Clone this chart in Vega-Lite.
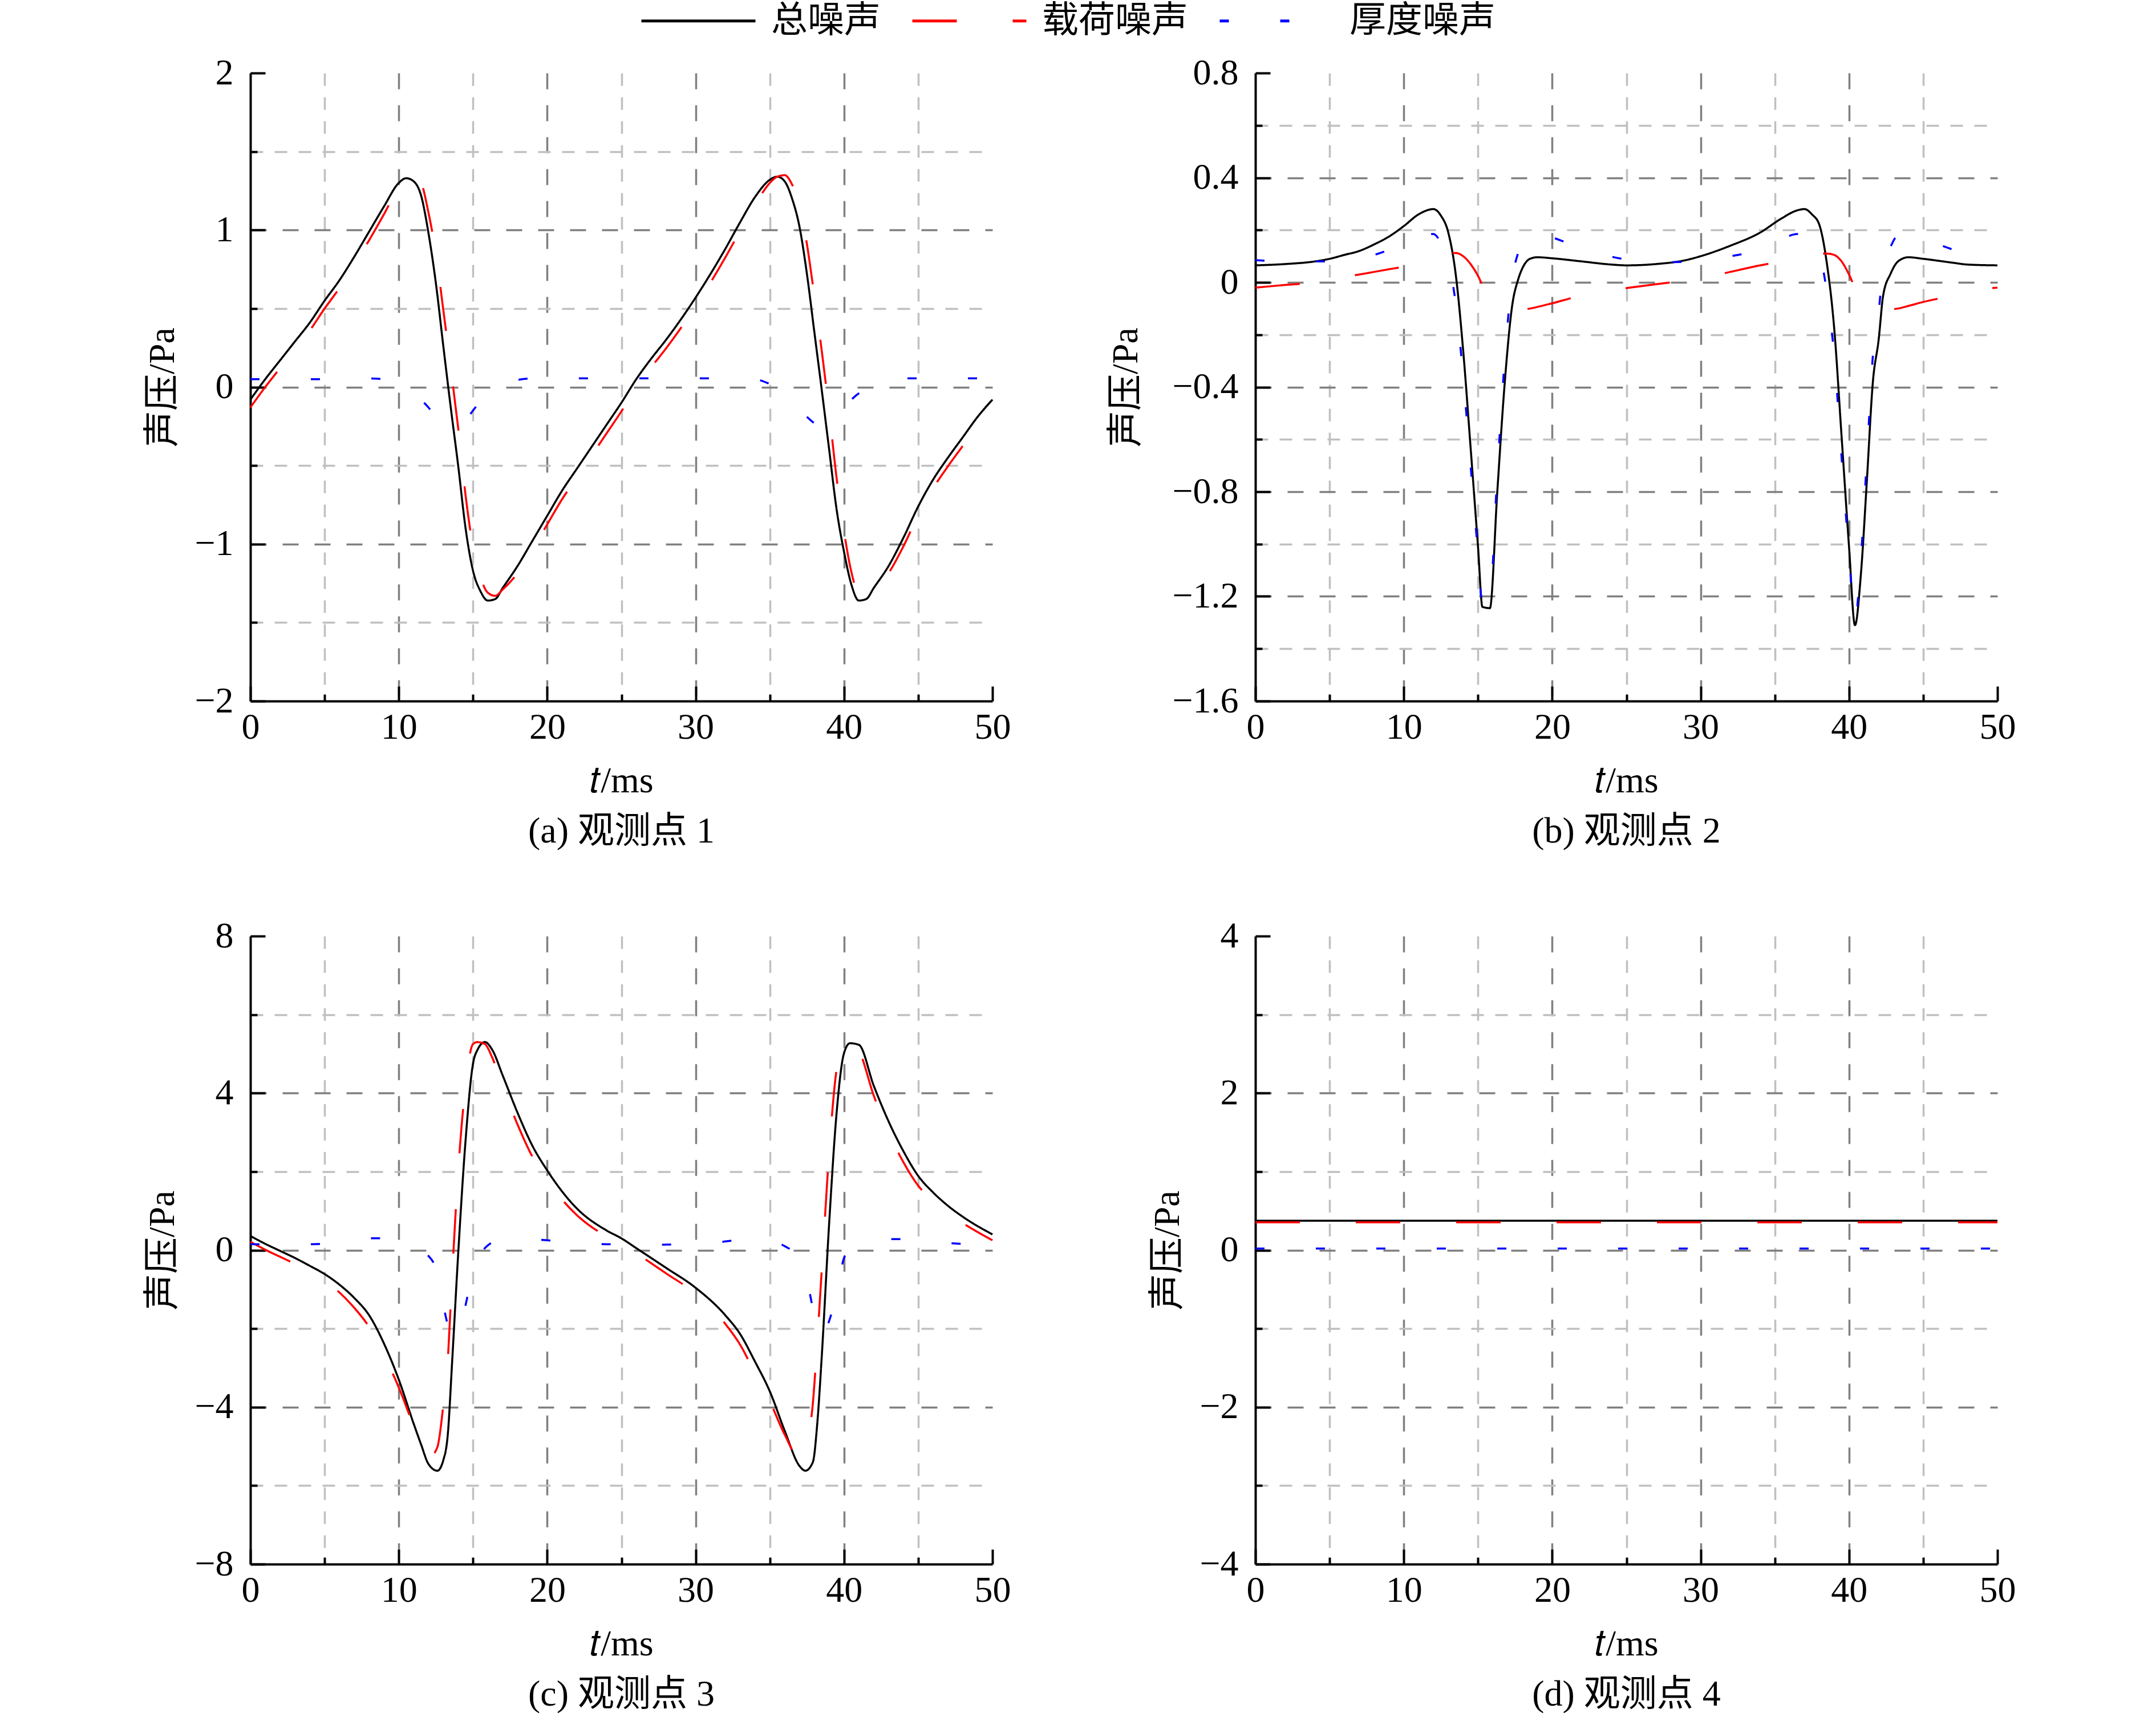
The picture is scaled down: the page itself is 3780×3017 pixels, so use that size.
{
  "$schema": "https://vega.github.io/schema/vega-lite/v6.json",
  "background": "white",
  "padding": {"left": 253, "top": -66, "right": 0, "bottom": 0},
  "data": {
    "values": [
      {"panel": "a", "t": 0, "总噪声": -0.08, "载荷噪声": -0.13, "厚度噪声": 0.05},
      {"panel": "a", "t": 1, "总噪声": 0.05, "载荷噪声": 0.0, "厚度噪声": 0.05},
      {"panel": "a", "t": 2, "总噪声": 0.17, "载荷噪声": 0.12, "厚度噪声": 0.05},
      {"panel": "a", "t": 3, "总噪声": 0.29, "载荷噪声": 0.24, "厚度噪声": 0.05},
      {"panel": "a", "t": 4, "总噪声": 0.41, "载荷噪声": 0.36, "厚度噪声": 0.05},
      {"panel": "a", "t": 5, "总噪声": 0.55, "载荷噪声": 0.5, "厚度噪声": 0.05},
      {"panel": "a", "t": 6, "总噪声": 0.68, "载荷噪声": 0.63, "厚度噪声": 0.05},
      {"panel": "a", "t": 7, "总噪声": 0.83, "载荷噪声": 0.78, "厚度噪声": 0.05},
      {"panel": "a", "t": 8, "总噪声": 0.99, "载荷噪声": 0.935, "厚度噪声": 0.055},
      {"panel": "a", "t": 9, "总噪声": 1.15, "载荷噪声": 1.1, "厚度噪声": 0.05},
      {"panel": "a", "t": 10, "总噪声": 1.3, "载荷噪声": 1.275, "厚度噪声": 0.025},
      {"panel": "a", "t": 10.5, "总噪声": 1.33, "载荷噪声": 1.33, "厚度噪声": 0.0},
      {"panel": "a", "t": 11, "总噪声": 1.31, "载荷噪声": 1.34, "厚度噪声": -0.03},
      {"panel": "a", "t": 11.5, "总噪声": 1.22, "载荷噪声": 1.3, "厚度噪声": -0.08},
      {"panel": "a", "t": 12, "总噪声": 0.98, "载荷噪声": 1.11, "厚度噪声": -0.13},
      {"panel": "a", "t": 12.5, "总噪声": 0.66, "载荷噪声": 0.85, "厚度噪声": -0.19},
      {"panel": "a", "t": 13, "总噪声": 0.26, "载荷噪声": 0.49, "厚度噪声": -0.23},
      {"panel": "a", "t": 13.5, "总噪声": -0.13, "载荷噪声": 0.12, "厚度噪声": -0.25},
      {"panel": "a", "t": 14, "总噪声": -0.5, "载荷噪声": -0.26, "厚度噪声": -0.24},
      {"panel": "a", "t": 14.5, "总噪声": -0.9, "载荷噪声": -0.69, "厚度噪声": -0.21},
      {"panel": "a", "t": 15, "总噪声": -1.17, "载荷噪声": -1.02, "厚度噪声": -0.15},
      {"panel": "a", "t": 15.5, "总噪声": -1.3, "载荷噪声": -1.21, "厚度噪声": -0.09},
      {"panel": "a", "t": 16, "总噪声": -1.36, "载荷噪声": -1.31, "厚度噪声": -0.05},
      {"panel": "a", "t": 16.5, "总噪声": -1.35, "载荷噪声": -1.33, "厚度噪声": -0.02},
      {"panel": "a", "t": 17, "总噪声": -1.28, "载荷噪声": -1.29, "厚度噪声": 0.01},
      {"panel": "a", "t": 18, "总噪声": -1.14, "载荷噪声": -1.185, "厚度噪声": 0.045},
      {"panel": "a", "t": 19, "总噪声": -0.98, "载荷噪声": -1.035, "厚度噪声": 0.055},
      {"panel": "a", "t": 20, "总噪声": -0.82, "载荷噪声": -0.875, "厚度噪声": 0.055},
      {"panel": "a", "t": 21, "总噪声": -0.66, "载荷噪声": -0.715, "厚度噪声": 0.055},
      {"panel": "a", "t": 22, "总噪声": -0.52, "载荷噪声": -0.575, "厚度噪声": 0.055},
      {"panel": "a", "t": 23, "总噪声": -0.38, "载荷噪声": -0.435, "厚度噪声": 0.055},
      {"panel": "a", "t": 24, "总噪声": -0.24, "载荷噪声": -0.295, "厚度噪声": 0.055},
      {"panel": "a", "t": 25, "总噪声": -0.1, "载荷噪声": -0.155, "厚度噪声": 0.055},
      {"panel": "a", "t": 26, "总噪声": 0.05, "载荷噪声": -0.005, "厚度噪声": 0.055},
      {"panel": "a", "t": 27, "总噪声": 0.18, "载荷噪声": 0.125, "厚度噪声": 0.055},
      {"panel": "a", "t": 28, "总噪声": 0.3, "载荷噪声": 0.245, "厚度噪声": 0.055},
      {"panel": "a", "t": 29, "总噪声": 0.43, "载荷噪声": 0.375, "厚度噪声": 0.055},
      {"panel": "a", "t": 30, "总噪声": 0.57, "载荷噪声": 0.515, "厚度噪声": 0.055},
      {"panel": "a", "t": 31, "总噪声": 0.72, "载荷噪声": 0.665, "厚度噪声": 0.055},
      {"panel": "a", "t": 32, "总噪声": 0.88, "载荷噪声": 0.825, "厚度噪声": 0.055},
      {"panel": "a", "t": 33, "总噪声": 1.05, "载荷噪声": 0.995, "厚度噪声": 0.055},
      {"panel": "a", "t": 34, "总噪声": 1.21, "载荷噪声": 1.16, "厚度噪声": 0.05},
      {"panel": "a", "t": 35, "总噪声": 1.32, "载荷噪声": 1.3, "厚度噪声": 0.02},
      {"panel": "a", "t": 35.5, "总噪声": 1.34, "载荷噪声": 1.34, "厚度噪声": 0.0},
      {"panel": "a", "t": 36, "总噪声": 1.31, "载荷噪声": 1.35, "厚度噪声": -0.04},
      {"panel": "a", "t": 36.5, "总噪声": 1.2, "载荷噪声": 1.29, "厚度噪声": -0.09},
      {"panel": "a", "t": 37, "总噪声": 1.02, "载荷噪声": 1.16, "厚度噪声": -0.14},
      {"panel": "a", "t": 37.5, "总噪声": 0.72, "载荷噪声": 0.91, "厚度噪声": -0.19},
      {"panel": "a", "t": 38, "总噪声": 0.35, "载荷噪声": 0.58, "厚度噪声": -0.23},
      {"panel": "a", "t": 38.5, "总噪声": -0.02, "载荷噪声": 0.23, "厚度噪声": -0.25},
      {"panel": "a", "t": 39, "总噪声": -0.4, "载荷噪声": -0.16, "厚度噪声": -0.24},
      {"panel": "a", "t": 39.5, "总噪声": -0.78, "载荷噪声": -0.58, "厚度噪声": -0.2},
      {"panel": "a", "t": 40, "总噪声": -1.05, "载荷噪声": -0.92, "厚度噪声": -0.13},
      {"panel": "a", "t": 40.5, "总噪声": -1.26, "载荷噪声": -1.18, "厚度噪声": -0.08},
      {"panel": "a", "t": 41, "总噪声": -1.36, "载荷噪声": -1.32, "厚度噪声": -0.04},
      {"panel": "a", "t": 41.5, "总噪声": -1.35, "载荷噪声": -1.335, "厚度噪声": -0.015},
      {"panel": "a", "t": 42, "总噪声": -1.28, "载荷噪声": -1.29, "厚度噪声": 0.01},
      {"panel": "a", "t": 43, "总噪声": -1.14, "载荷噪声": -1.185, "厚度噪声": 0.045},
      {"panel": "a", "t": 44, "总噪声": -0.96, "载荷噪声": -1.015, "厚度噪声": 0.055},
      {"panel": "a", "t": 45, "总噪声": -0.76, "载荷噪声": -0.815, "厚度噪声": 0.055},
      {"panel": "a", "t": 46, "总噪声": -0.59, "载荷噪声": -0.645, "厚度噪声": 0.055},
      {"panel": "a", "t": 47, "总噪声": -0.45, "载荷噪声": -0.505, "厚度噪声": 0.055},
      {"panel": "a", "t": 48, "总噪声": -0.32, "载荷噪声": -0.375, "厚度噪声": 0.055},
      {"panel": "a", "t": 49, "总噪声": -0.19, "载荷噪声": -0.245, "厚度噪声": 0.055},
      {"panel": "a", "t": 50, "总噪声": -0.08, "载荷噪声": -0.13, "厚度噪声": 0.05},

      {"panel": "b", "t": 0, "总噪声": 0.065, "载荷噪声": -0.02, "厚度噪声": 0.085},
      {"panel": "b", "t": 2, "总噪声": 0.07, "载荷噪声": -0.01, "厚度噪声": 0.08},
      {"panel": "b", "t": 4, "总噪声": 0.08, "载荷噪声": 0.0, "厚度噪声": 0.08},
      {"panel": "b", "t": 5, "总噪声": 0.09, "载荷噪声": 0.01, "厚度噪声": 0.08},
      {"panel": "b", "t": 6, "总噪声": 0.105, "载荷噪声": 0.02, "厚度噪声": 0.085},
      {"panel": "b", "t": 7, "总噪声": 0.12, "载荷噪声": 0.03, "厚度噪声": 0.09},
      {"panel": "b", "t": 8, "总噪声": 0.145, "载荷噪声": 0.04, "厚度噪声": 0.105},
      {"panel": "b", "t": 9, "总噪声": 0.175, "载荷噪声": 0.05, "厚度噪声": 0.125},
      {"panel": "b", "t": 10, "总噪声": 0.215, "载荷噪声": 0.06, "厚度噪声": 0.155},
      {"panel": "b", "t": 11, "总噪声": 0.26, "载荷噪声": 0.075, "厚度噪声": 0.185},
      {"panel": "b", "t": 12, "总噪声": 0.28, "载荷噪声": 0.095, "厚度噪声": 0.185},
      {"panel": "b", "t": 12.5, "总噪声": 0.255, "载荷噪声": 0.105, "厚度噪声": 0.15},
      {"panel": "b", "t": 13, "总噪声": 0.19, "载荷噪声": 0.11, "厚度噪声": 0.08},
      {"panel": "b", "t": 13.5, "总噪声": 0.03, "载荷噪声": 0.112, "厚度噪声": -0.082},
      {"panel": "b", "t": 14, "总噪声": -0.26, "载荷噪声": 0.1, "厚度噪声": -0.36},
      {"panel": "b", "t": 14.5, "总噪声": -0.63, "载荷噪声": 0.07, "厚度噪声": -0.7},
      {"panel": "b", "t": 15, "总噪声": -1.01, "载荷噪声": 0.025, "厚度噪声": -1.035},
      {"panel": "b", "t": 15.3, "总噪声": -1.24, "载荷噪声": -0.01, "厚度噪声": -1.23},
      {"panel": "b", "t": 15.8, "总噪声": -1.245, "载荷噪声": -0.04, "厚度噪声": -1.205},
      {"panel": "b", "t": 16.3, "总噪声": -0.8, "载荷噪声": -0.07, "厚度噪声": -0.73},
      {"panel": "b", "t": 16.8, "总噪声": -0.385, "载荷噪声": -0.09, "厚度噪声": -0.295},
      {"panel": "b", "t": 17.3, "总噪声": -0.09, "载荷噪声": -0.1, "厚度噪声": 0.01},
      {"panel": "b", "t": 17.7, "总噪声": 0.01, "载荷噪声": -0.102, "厚度噪声": 0.112},
      {"panel": "b", "t": 18, "总噪声": 0.055, "载荷噪声": -0.103, "厚度噪声": 0.158},
      {"panel": "b", "t": 18.5, "总噪声": 0.09, "载荷噪声": -0.1, "厚度噪声": 0.19},
      {"panel": "b", "t": 19, "总噪声": 0.096, "载荷噪声": -0.094, "厚度噪声": 0.19},
      {"panel": "b", "t": 20, "总噪声": 0.092, "载荷噪声": -0.08, "厚度噪声": 0.172},
      {"panel": "b", "t": 22, "总噪声": 0.08, "载荷噪声": -0.05, "厚度噪声": 0.13},
      {"panel": "b", "t": 24, "总噪声": 0.068, "载荷噪声": -0.03, "厚度噪声": 0.098},
      {"panel": "b", "t": 25, "总噪声": 0.065, "载荷噪声": -0.022, "厚度噪声": 0.087},
      {"panel": "b", "t": 27, "总噪声": 0.07, "载荷噪声": -0.007, "厚度噪声": 0.077},
      {"panel": "b", "t": 29, "总噪声": 0.085, "载荷噪声": 0.007, "厚度噪声": 0.078},
      {"panel": "b", "t": 30, "总噪声": 0.1, "载荷噪声": 0.015, "厚度噪声": 0.085},
      {"panel": "b", "t": 32, "总噪声": 0.14, "载荷噪声": 0.04, "厚度噪声": 0.1},
      {"panel": "b", "t": 34, "总噪声": 0.19, "载荷噪声": 0.065, "厚度噪声": 0.125},
      {"panel": "b", "t": 35.5, "总噪声": 0.246, "载荷噪声": 0.08, "厚度噪声": 0.166},
      {"panel": "b", "t": 36.5, "总噪声": 0.275, "载荷噪声": 0.09, "厚度噪声": 0.185},
      {"panel": "b", "t": 37, "总噪声": 0.28, "载荷噪声": 0.095, "厚度噪声": 0.185},
      {"panel": "b", "t": 37.5, "总噪声": 0.26, "载荷噪声": 0.105, "厚度噪声": 0.155},
      {"panel": "b", "t": 38, "总噪声": 0.22, "载荷噪声": 0.11, "厚度噪声": 0.11},
      {"panel": "b", "t": 38.5, "总噪声": 0.075, "载荷噪声": 0.11, "厚度噪声": -0.035},
      {"panel": "b", "t": 39, "总噪声": -0.175, "载荷噪声": 0.105, "厚度噪声": -0.28},
      {"panel": "b", "t": 39.5, "总噪声": -0.59, "载荷噪声": 0.08, "厚度噪声": -0.67},
      {"panel": "b", "t": 40, "总噪声": -1.01, "载荷噪声": 0.03, "厚度噪声": -1.04},
      {"panel": "b", "t": 40.4, "总噪声": -1.31, "载荷噪声": -0.02, "厚度噪声": -1.29},
      {"panel": "b", "t": 40.8, "总噪声": -1.115, "载荷噪声": -0.06, "厚度噪声": -1.055},
      {"panel": "b", "t": 41.2, "总噪声": -0.76, "载荷噪声": -0.085, "厚度噪声": -0.675},
      {"panel": "b", "t": 41.6, "总噪声": -0.385, "载荷噪声": -0.1, "厚度噪声": -0.285},
      {"panel": "b", "t": 42, "总噪声": -0.217, "载荷噪声": -0.105, "厚度噪声": -0.112},
      {"panel": "b", "t": 42.3, "总噪声": -0.05, "载荷噪声": -0.105, "厚度噪声": 0.055},
      {"panel": "b", "t": 42.8, "总噪声": 0.033, "载荷噪声": -0.103, "厚度噪声": 0.136},
      {"panel": "b", "t": 43.3, "总噪声": 0.08, "载荷噪声": -0.1, "厚度噪声": 0.18},
      {"panel": "b", "t": 44, "总噪声": 0.096, "载荷噪声": -0.09, "厚度噪声": 0.186},
      {"panel": "b", "t": 45, "总噪声": 0.09, "载荷噪声": -0.075, "厚度噪声": 0.165},
      {"panel": "b", "t": 47, "总噪声": 0.075, "载荷噪声": -0.05, "厚度噪声": 0.125},
      {"panel": "b", "t": 48, "总噪声": 0.068, "载荷噪声": -0.035, "厚度噪声": 0.103},
      {"panel": "b", "t": 50, "总噪声": 0.065, "载荷噪声": -0.02, "厚度噪声": 0.085},

      {"panel": "c", "t": 0, "总噪声": 0.36, "载荷噪声": 0.21, "厚度噪声": 0.15},
      {"panel": "c", "t": 1, "总噪声": 0.16, "载荷噪声": 0.01, "厚度噪声": 0.15},
      {"panel": "c", "t": 2, "总噪声": -0.02, "载荷噪声": -0.17, "厚度噪声": 0.15},
      {"panel": "c", "t": 3, "总噪声": -0.2, "载荷噪声": -0.35, "厚度噪声": 0.15},
      {"panel": "c", "t": 4, "总噪声": -0.4, "载荷噪声": -0.55, "厚度噪声": 0.15},
      {"panel": "c", "t": 5, "总噪声": -0.61, "载荷噪声": -0.77, "厚度噪声": 0.16},
      {"panel": "c", "t": 6, "总噪声": -0.88, "载荷噪声": -1.08, "厚度噪声": 0.2},
      {"panel": "c", "t": 7, "总噪声": -1.22, "载荷噪声": -1.47, "厚度噪声": 0.25},
      {"panel": "c", "t": 8, "总噪声": -1.66, "载荷噪声": -1.96, "厚度噪声": 0.3},
      {"panel": "c", "t": 9, "总噪声": -2.38, "载荷噪声": -2.68, "厚度噪声": 0.3},
      {"panel": "c", "t": 10, "总噪声": -3.3, "载荷噪声": -3.5, "厚度噪声": 0.2},
      {"panel": "c", "t": 11, "总噪声": -4.42, "载荷噪声": -4.47, "厚度噪声": 0.05},
      {"panel": "c", "t": 11.5, "总噪声": -4.95, "载荷噪声": -4.9, "厚度噪声": -0.05},
      {"panel": "c", "t": 12, "总噪声": -5.45, "载荷噪声": -5.3, "厚度噪声": -0.15},
      {"panel": "c", "t": 12.6, "总噪声": -5.62, "载荷噪声": -5.02, "厚度噪声": -0.6},
      {"panel": "c", "t": 13, "总噪声": -5.35, "载荷噪声": -3.95, "厚度噪声": -1.4},
      {"panel": "c", "t": 13.3, "总噪声": -4.7, "载荷噪声": -2.8, "厚度噪声": -1.9},
      {"panel": "c", "t": 13.6, "总噪声": -2.8, "载荷噪声": -0.6, "厚度噪声": -2.2},
      {"panel": "c", "t": 14, "总噪声": -0.1, "载荷噪声": 2.0, "厚度噪声": -2.1},
      {"panel": "c", "t": 14.5, "总噪声": 2.8, "载荷噪声": 4.2, "厚度噪声": -1.4},
      {"panel": "c", "t": 15, "总噪声": 4.75, "载荷噪声": 5.25, "厚度噪声": -0.5},
      {"panel": "c", "t": 15.3, "总噪声": 5.1, "载荷噪声": 5.3, "厚度噪声": -0.2},
      {"panel": "c", "t": 15.8, "总噪声": 5.3, "载荷噪声": 5.25, "厚度噪声": 0.05},
      {"panel": "c", "t": 16.3, "总噪声": 5.1, "载荷噪声": 4.9, "厚度噪声": 0.2},
      {"panel": "c", "t": 17, "总噪声": 4.45, "载荷噪声": 4.17, "厚度噪声": 0.28},
      {"panel": "c", "t": 18, "总噪声": 3.5, "载荷噪声": 3.2, "厚度噪声": 0.3},
      {"panel": "c", "t": 19, "总噪声": 2.66, "载荷噪声": 2.38, "厚度噪声": 0.28},
      {"panel": "c", "t": 20, "总噪声": 2.03, "载荷噪声": 1.78, "厚度噪声": 0.25},
      {"panel": "c", "t": 22, "总噪声": 1.06, "载荷噪声": 0.89, "厚度噪声": 0.17},
      {"panel": "c", "t": 24, "总噪声": 0.5, "载荷噪声": 0.35, "厚度噪声": 0.15},
      {"panel": "c", "t": 25, "总噪声": 0.3, "载荷噪声": 0.16, "厚度噪声": 0.14},
      {"panel": "c", "t": 26, "总噪声": 0.05, "载荷噪声": -0.08, "厚度噪声": 0.13},
      {"panel": "c", "t": 28, "总噪声": -0.45, "载荷噪声": -0.59, "厚度噪声": 0.14},
      {"panel": "c", "t": 30, "总噪声": -0.96, "载荷噪声": -1.11, "厚度噪声": 0.15},
      {"panel": "c", "t": 32, "总噪声": -1.66, "载荷噪声": -1.88, "厚度噪声": 0.22},
      {"panel": "c", "t": 33, "总噪声": -2.14, "载荷噪声": -2.41, "厚度噪声": 0.27},
      {"panel": "c", "t": 34, "总噪声": -2.84, "载荷噪声": -3.14, "厚度噪声": 0.3},
      {"panel": "c", "t": 35, "总噪声": -3.6, "载荷噪声": -3.85, "厚度噪声": 0.25},
      {"panel": "c", "t": 36, "总噪声": -4.6, "载荷噪声": -4.7, "厚度噪声": 0.1},
      {"panel": "c", "t": 37, "总噪声": -5.5, "载荷噪声": -5.3, "厚度噪声": -0.2},
      {"panel": "c", "t": 37.4, "总噪声": -5.62, "载荷噪声": -5.02, "厚度噪声": -0.6},
      {"panel": "c", "t": 37.9, "总噪声": -5.4, "载荷噪声": -3.9, "厚度噪声": -1.5},
      {"panel": "c", "t": 38.2, "总噪声": -4.4, "载荷噪声": -2.3, "厚度噪声": -2.1},
      {"panel": "c", "t": 38.5, "总噪声": -2.7, "载荷噪声": -0.5, "厚度噪声": -2.2},
      {"panel": "c", "t": 39, "总噪声": 0.7, "载荷噪声": 2.5, "厚度噪声": -1.8},
      {"panel": "c", "t": 39.5, "总噪声": 3.5, "载荷噪声": 4.6, "厚度噪声": -1.1},
      {"panel": "c", "t": 40, "总噪声": 5.02, "载荷噪声": 5.22, "厚度噪声": -0.2},
      {"panel": "c", "t": 40.4, "总噪声": 5.27, "载荷噪声": 5.27, "厚度噪声": 0.0},
      {"panel": "c", "t": 41, "总噪声": 5.23, "载荷噪声": 5.08, "厚度噪声": 0.15},
      {"panel": "c", "t": 42, "总噪声": 4.19, "载荷噪声": 3.94, "厚度噪声": 0.25},
      {"panel": "c", "t": 43, "总噪声": 3.28, "载荷噪声": 3.0, "厚度噪声": 0.28},
      {"panel": "c", "t": 44, "总噪声": 2.52, "载荷噪声": 2.24, "厚度噪声": 0.28},
      {"panel": "c", "t": 45, "总噪声": 1.89, "载荷噪声": 1.64, "厚度噪声": 0.25},
      {"panel": "c", "t": 46, "总噪声": 1.47, "载荷噪声": 1.25, "厚度噪声": 0.22},
      {"panel": "c", "t": 47, "总噪声": 1.13, "载荷噪声": 0.95, "厚度噪声": 0.18},
      {"panel": "c", "t": 48, "总噪声": 0.85, "载荷噪声": 0.69, "厚度噪声": 0.16},
      {"panel": "c", "t": 50, "总噪声": 0.4, "载荷噪声": 0.25, "厚度噪声": 0.15},

      {"panel": "d", "t": 0, "总噪声": 0.375, "载荷噪声": 0.355, "厚度噪声": 0.02},
      {"panel": "d", "t": 10, "总噪声": 0.375, "载荷噪声": 0.355, "厚度噪声": 0.02},
      {"panel": "d", "t": 20, "总噪声": 0.375, "载荷噪声": 0.355, "厚度噪声": 0.02},
      {"panel": "d", "t": 30, "总噪声": 0.375, "载荷噪声": 0.355, "厚度噪声": 0.02},
      {"panel": "d", "t": 40, "总噪声": 0.375, "载荷噪声": 0.355, "厚度噪声": 0.02},
      {"panel": "d", "t": 50, "总噪声": 0.375, "载荷噪声": 0.355, "厚度噪声": 0.02}
    ]
  },
  "transform": [
    {"fold": ["总噪声", "载荷噪声", "厚度噪声"], "as": ["series", "p"]}
  ],
  "columns": 2,
  "spacing": {"row": 119, "column": 170},
  "concat": [
    {
      "width": 1301,
      "height": 1101,
      "title": {"text": "(a) 观测点 1"},
      "transform": [{"filter": "datum.panel === 'a'"}],
      "mark": {"type": "line", "strokeWidth": 3.5, "interpolate": "monotone"},
      "encoding": {
        "x": {
          "field": "t", "type": "quantitative",
          "scale": {"domain": [0, 50], "nice": false, "zero": false},
          "axis": {
            "title": "𝑡/ms",
            "values": [0, 5, 10, 15, 20, 25, 30, 35, 40, 45, 50],
            "labelExpr": "datum.value % 10 === 0 ? datum.label : ''",
            "gridColor": {"condition": {"test": "datum.value % 10 === 0", "value": "#808080"}, "value": "#c0c0c0"},
            "gridDash": {"condition": {"test": "datum.value % 10 === 0", "value": [28, 28]}, "value": [22, 20]},
            "gridOpacity": {"condition": {"test": "datum.value <= 0 || datum.value >= 50", "value": 0}, "value": 1},
            "tickSize": {"condition": {"test": "datum.value % 10 === 0", "value": -26}, "value": -12}
          }
        },
        "y": {
          "field": "p", "type": "quantitative",
          "scale": {"domain": [-2, 2], "nice": false, "zero": false},
          "axis": {
            "title": "声压/Pa",
            "values": [-2, -1.5, -1, -0.5, 0, 0.5, 1, 1.5, 2],
            "labelExpr": "datum.value % 1 === 0 ? datum.label : ''",
            "gridColor": {"condition": {"test": "datum.value % 1 === 0", "value": "#808080"}, "value": "#c0c0c0"},
            "gridDash": {"condition": {"test": "datum.value % 1 === 0", "value": [28, 28]}, "value": [22, 20]},
            "gridOpacity": {"condition": {"test": "datum.value <= -2 || datum.value >= 2", "value": 0}, "value": 1},
            "tickSize": {"condition": {"test": "datum.value % 1 === 0", "value": -26}, "value": -12}
          }
        },
        "color": {"field": "series", "type": "nominal", "scale": {"domain": ["总噪声", "载荷噪声", "厚度噪声"], "range": ["#000000", "#ff0000", "#0000ff"]}},
        "strokeDash": {"field": "series", "type": "nominal", "scale": {"domain": ["总噪声", "载荷噪声", "厚度噪声"], "range": [[1, 0], [78, 98], [16, 90]]}}
      }
    },
    {
      "width": 1301,
      "height": 1101,
      "title": {"text": "(b) 观测点 2"},
      "transform": [{"filter": "datum.panel === 'b'"}],
      "mark": {"type": "line", "strokeWidth": 3.5, "interpolate": "monotone"},
      "encoding": {
        "x": {
          "field": "t", "type": "quantitative",
          "scale": {"domain": [0, 50], "nice": false, "zero": false},
          "axis": {
            "title": "𝑡/ms",
            "values": [0, 5, 10, 15, 20, 25, 30, 35, 40, 45, 50],
            "labelExpr": "datum.value % 10 === 0 ? datum.label : ''",
            "gridColor": {"condition": {"test": "datum.value % 10 === 0", "value": "#808080"}, "value": "#c0c0c0"},
            "gridDash": {"condition": {"test": "datum.value % 10 === 0", "value": [28, 28]}, "value": [22, 20]},
            "gridOpacity": {"condition": {"test": "datum.value <= 0 || datum.value >= 50", "value": 0}, "value": 1},
            "tickSize": {"condition": {"test": "datum.value % 10 === 0", "value": -26}, "value": -12}
          }
        },
        "y": {
          "field": "p", "type": "quantitative",
          "scale": {"domain": [-1.6, 0.8], "nice": false, "zero": false},
          "axis": {
            "title": "声压/Pa",
            "titlePadding": 48,
            "values": [-1.6, -1.4, -1.2, -1, -0.8, -0.6, -0.4, -0.2, 0, 0.2, 0.4, 0.6, 0.8],
            "labelExpr": "round(datum.value * 10) % 4 === 0 ? datum.label : ''",
            "gridColor": {"condition": {"test": "round(datum.value * 10) % 4 === 0", "value": "#808080"}, "value": "#c0c0c0"},
            "gridDash": {"condition": {"test": "round(datum.value * 10) % 4 === 0", "value": [28, 28]}, "value": [22, 20]},
            "gridOpacity": {"condition": {"test": "datum.value <= -1.59 || datum.value >= 0.79", "value": 0}, "value": 1},
            "tickSize": {"condition": {"test": "round(datum.value * 10) % 4 === 0", "value": -26}, "value": -12}
          }
        },
        "color": {"field": "series", "type": "nominal", "scale": {"domain": ["总噪声", "载荷噪声", "厚度噪声"], "range": ["#000000", "#ff0000", "#0000ff"]}},
        "strokeDash": {"field": "series", "type": "nominal", "scale": {"domain": ["总噪声", "载荷噪声", "厚度噪声"], "range": [[1, 0], [78, 98], [16, 90]]}}
      }
    },
    {
      "width": 1301,
      "height": 1101,
      "title": {"text": "(c) 观测点 3"},
      "transform": [{"filter": "datum.panel === 'c'"}],
      "mark": {"type": "line", "strokeWidth": 3.5, "interpolate": "monotone"},
      "encoding": {
        "x": {
          "field": "t", "type": "quantitative",
          "scale": {"domain": [0, 50], "nice": false, "zero": false},
          "axis": {
            "title": "𝑡/ms",
            "values": [0, 5, 10, 15, 20, 25, 30, 35, 40, 45, 50],
            "labelExpr": "datum.value % 10 === 0 ? datum.label : ''",
            "gridColor": {"condition": {"test": "datum.value % 10 === 0", "value": "#808080"}, "value": "#c0c0c0"},
            "gridDash": {"condition": {"test": "datum.value % 10 === 0", "value": [28, 28]}, "value": [22, 20]},
            "gridOpacity": {"condition": {"test": "datum.value <= 0 || datum.value >= 50", "value": 0}, "value": 1},
            "tickSize": {"condition": {"test": "datum.value % 10 === 0", "value": -26}, "value": -12}
          }
        },
        "y": {
          "field": "p", "type": "quantitative",
          "scale": {"domain": [-8, 8], "nice": false, "zero": false},
          "axis": {
            "title": "声压/Pa",
            "values": [-8, -6, -4, -2, 0, 2, 4, 6, 8],
            "labelExpr": "datum.value % 4 === 0 ? datum.label : ''",
            "gridColor": {"condition": {"test": "datum.value % 4 === 0", "value": "#808080"}, "value": "#c0c0c0"},
            "gridDash": {"condition": {"test": "datum.value % 4 === 0", "value": [28, 28]}, "value": [22, 20]},
            "gridOpacity": {"condition": {"test": "datum.value <= -8 || datum.value >= 8", "value": 0}, "value": 1},
            "tickSize": {"condition": {"test": "datum.value % 4 === 0", "value": -26}, "value": -12}
          }
        },
        "color": {"field": "series", "type": "nominal", "scale": {"domain": ["总噪声", "载荷噪声", "厚度噪声"], "range": ["#000000", "#ff0000", "#0000ff"]}},
        "strokeDash": {"field": "series", "type": "nominal", "scale": {"domain": ["总噪声", "载荷噪声", "厚度噪声"], "range": [[1, 0], [78, 98], [16, 90]]}}
      }
    },
    {
      "width": 1301,
      "height": 1101,
      "title": {"text": "(d) 观测点 4"},
      "transform": [{"filter": "datum.panel === 'd'"}],
      "mark": {"type": "line", "strokeWidth": 3.5, "interpolate": "monotone"},
      "encoding": {
        "x": {
          "field": "t", "type": "quantitative",
          "scale": {"domain": [0, 50], "nice": false, "zero": false},
          "axis": {
            "title": "𝑡/ms",
            "values": [0, 5, 10, 15, 20, 25, 30, 35, 40, 45, 50],
            "labelExpr": "datum.value % 10 === 0 ? datum.label : ''",
            "gridColor": {"condition": {"test": "datum.value % 10 === 0", "value": "#808080"}, "value": "#c0c0c0"},
            "gridDash": {"condition": {"test": "datum.value % 10 === 0", "value": [28, 28]}, "value": [22, 20]},
            "gridOpacity": {"condition": {"test": "datum.value <= 0 || datum.value >= 50", "value": 0}, "value": 1},
            "tickSize": {"condition": {"test": "datum.value % 10 === 0", "value": -26}, "value": -12}
          }
        },
        "y": {
          "field": "p", "type": "quantitative",
          "scale": {"domain": [-4, 4], "nice": false, "zero": false},
          "axis": {
            "title": "声压/Pa",
            "values": [-4, -3, -2, -1, 0, 1, 2, 3, 4],
            "labelExpr": "datum.value % 2 === 0 ? datum.label : ''",
            "gridColor": {"condition": {"test": "datum.value % 2 === 0", "value": "#808080"}, "value": "#c0c0c0"},
            "gridDash": {"condition": {"test": "datum.value % 2 === 0", "value": [28, 28]}, "value": [22, 20]},
            "gridOpacity": {"condition": {"test": "datum.value <= -4 || datum.value >= 4", "value": 0}, "value": 1},
            "tickSize": {"condition": {"test": "datum.value % 2 === 0", "value": -26}, "value": -12}
          }
        },
        "color": {"field": "series", "type": "nominal", "scale": {"domain": ["总噪声", "载荷噪声", "厚度噪声"], "range": ["#000000", "#ff0000", "#0000ff"]}},
        "strokeDash": {"field": "series", "type": "nominal", "scale": {"domain": ["总噪声", "载荷噪声", "厚度噪声"], "range": [[1, 0], [78, 98], [16, 90]]}}
      }
    }
  ],
  "resolve": {
    "scale": {"x": "independent", "y": "independent", "color": "shared", "strokeDash": "shared"},
    "legend": {"color": "shared", "strokeDash": "shared"}
  },
  "config": {
    "view": {"stroke": null},
    "font": "Liberation Serif, Noto Sans CJK SC",
    "title": {"font": "Liberation Serif, Noto Sans CJK SC", "fontSize": 64, "fontWeight": "normal", "color": "#000000", "orient": "bottom", "offset": 25, "frame": "group", "anchor": "middle"},
    "axis": {
      "domainColor": "#000000",
      "domainWidth": 4,
      "tickColor": "#000000",
      "tickWidth": 4,
      "labelFont": "Liberation Serif",
      "labelFontSize": 64,
      "labelColor": "#000000",
      "labelFlush": false,
      "labelOverlap": false,
      "format": "~g",
      "titleFont": "Liberation Serif, Noto Sans CJK SC",
      "titleFontSize": 64,
      "titleFontWeight": "normal",
      "titleColor": "#000000",
      "grid": true,
      "gridWidth": 3.5
    },
    "axisX": {"labelPadding": 40, "titlePadding": 16},
    "axisY": {"labelPadding": 56, "titlePadding": 23},
    "legend": {
      "orient": "none",
      "legendX": 683,
      "legendY": -194,
      "direction": "horizontal",
      "title": null,
      "labelFont": "Liberation Serif, Noto Sans CJK SC",
      "labelFontSize": 64,
      "labelColor": "#000000",
      "labelLimit": 1000,
      "labelOffset": 25,
      "columnPadding": 45,
      "symbolSize": 40000,
      "symbolStrokeWidth": 5,
      "symbolType": "stroke"
    }
  }
}
